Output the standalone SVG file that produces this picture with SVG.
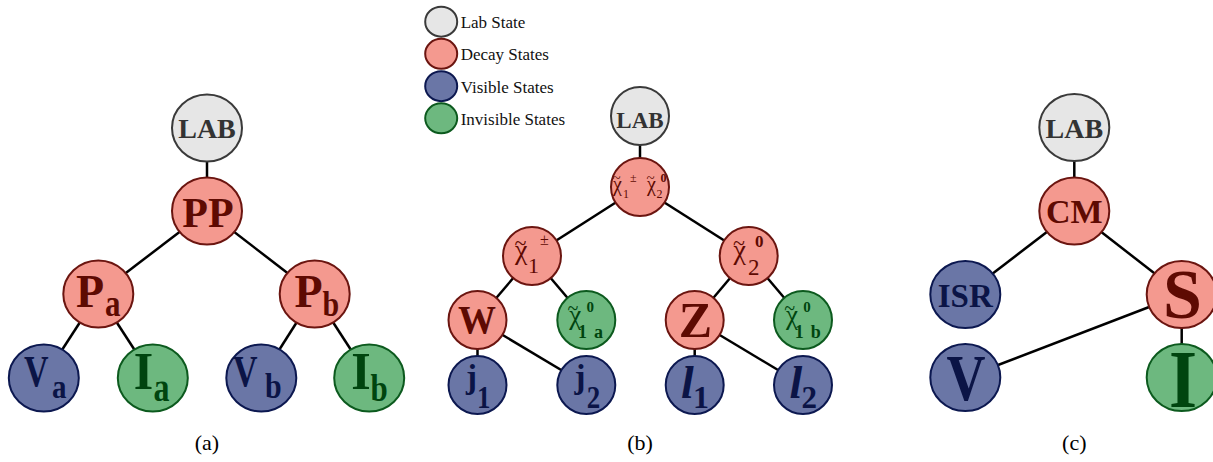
<svg xmlns="http://www.w3.org/2000/svg" width="1213" height="462" viewBox="0 0 1213 462">
<style>
.lab{fill:#e6e6e6;stroke:#3a3a3a;stroke-width:2}
.dec{fill:#f4998f;stroke:#6b1510;stroke-width:2}
.vis{fill:#6a76a6;stroke:#0c1850;stroke-width:2}
.inv{fill:#6db87f;stroke:#0c5a1e;stroke-width:2}
text{font-family:"Liberation Serif","Times New Roman",serif}
.b{font-weight:bold}
.m{text-anchor:middle}
.tl{fill:#333}
.td{fill:#5e0a02}
.tv{fill:#0b1446}
.ti{fill:#00450f}
.edges line{stroke:#000;stroke-width:2.5}
.leg{font-size:17px;fill:#111}
.cap{font-size:22px;fill:#000;text-anchor:middle}
</style>
<rect width="1213" height="462" fill="#fff"/>

<g id="connectors" class="edges">
  <!-- (a) -->
  <line x1="207" y1="128" x2="207" y2="211"/>
  <line x1="207" y1="211" x2="98.3" y2="294"/>
  <line x1="207" y1="211" x2="314.7" y2="294"/>
  <line x1="98.3" y1="294" x2="43.8" y2="378"/>
  <line x1="98.3" y1="294" x2="152.8" y2="378"/>
  <line x1="314.7" y1="294" x2="261.3" y2="378"/>
  <line x1="314.7" y1="294" x2="369.2" y2="378"/>
  <!-- (b) -->
  <line x1="640" y1="116" x2="640" y2="187"/>
  <line x1="640" y1="187" x2="532" y2="256"/>
  <line x1="640" y1="187" x2="748.7" y2="256"/>
  <line x1="532" y1="256" x2="477.5" y2="320"/>
  <line x1="532" y1="256" x2="586.3" y2="320"/>
  <line x1="748.7" y1="256" x2="694.7" y2="320"/>
  <line x1="748.7" y1="256" x2="803" y2="320"/>
  <line x1="477.5" y1="320" x2="477.5" y2="385"/>
  <line x1="477.5" y1="320" x2="586.3" y2="385"/>
  <line x1="694.7" y1="320" x2="694.7" y2="385"/>
  <line x1="694.7" y1="320" x2="803" y2="385"/>
  <!-- (c) -->
  <line x1="1074.3" y1="127.5" x2="1074.3" y2="211"/>
  <line x1="1074.3" y1="211" x2="965.3" y2="294.5"/>
  <line x1="1074.3" y1="211" x2="1181.7" y2="294.5"/>
  <line x1="1181.7" y1="294.5" x2="965.3" y2="377.5"/>
  <line x1="1181.7" y1="294.5" x2="1181.7" y2="377.5"/>
</g>

<g id="legend">
  <ellipse class="lab" cx="441.2" cy="21.7" rx="16" ry="15"/>
  <text class="leg" x="460.7" y="28.3">Lab State</text>
  <ellipse class="dec" cx="441.2" cy="53.8" rx="16" ry="15"/>
  <text class="leg" x="460.7" y="60.4">Decay States</text>
  <ellipse class="vis" cx="441.2" cy="86.2" rx="16" ry="15"/>
  <text class="leg" x="460.7" y="92.8">Visible States</text>
  <ellipse class="inv" cx="441.2" cy="118.3" rx="16" ry="15"/>
  <text class="leg" x="460.7" y="124.9">Invisible States</text>
</g>

<!-- Panel (a) -->
<g id="a-lab"><ellipse class="lab" cx="207" cy="128" rx="35" ry="33.5"/><text class="b m tl" x="207" y="138.3" font-size="28">LAB</text></g>
<g id="a-pp"><ellipse class="dec" cx="207" cy="211" rx="35" ry="33.5"/><text class="b m td" x="208" y="226.7" font-size="42">PP</text></g>
<g id="a-pa"><ellipse class="dec" cx="98.3" cy="294" rx="35" ry="33.5"/><text class="b td" x="76" y="306.7" font-size="46">P</text><text class="b td" transform="translate(105,315.5) scale(1,1.25)" font-size="31">a</text></g>
<g id="a-pb"><ellipse class="dec" cx="314.7" cy="294" rx="35" ry="33.5"/><text class="b td" x="294.5" y="306.7" font-size="46">P</text><text class="b td" transform="translate(322.5,315.5) scale(1,1.2)" font-size="30">b</text></g>
<g id="a-va"><ellipse class="vis" cx="43.8" cy="378" rx="35" ry="33.5"/><text class="b tv" transform="translate(24,386) scale(1,1.3)" font-size="34">V</text><text class="b tv" transform="translate(52,397.5) scale(1,1.15)" font-size="29">a</text></g>
<g id="a-ia"><ellipse class="inv" cx="152.8" cy="378" rx="35" ry="33.5"/><text class="b m ti" transform="translate(143.5,389) scale(1,1.05)" font-size="50">I</text><text class="b ti" transform="translate(153.5,401) scale(1,1.25)" font-size="32">a</text></g>
<g id="a-vb"><ellipse class="vis" cx="261.3" cy="378" rx="35" ry="33.5"/><text class="b tv" transform="translate(233,386) scale(1,1.3)" font-size="34">V</text><text class="b tv" transform="translate(265,398) scale(1,1.2)" font-size="30">b</text></g>
<g id="a-ib"><ellipse class="inv" cx="369.2" cy="378" rx="35" ry="33.5"/><text class="b m ti" transform="translate(361,389) scale(1,1.05)" font-size="50">I</text><text class="b ti" transform="translate(370.5,401) scale(1,1.2)" font-size="31">b</text></g>
<text class="cap" x="207" y="450">(a)</text>

<!-- Panel (b) -->
<g id="b-lab"><circle class="lab" cx="640" cy="116" r="29"/><text class="b m tl" x="640" y="127.5" font-size="23">LAB</text></g>
<g id="b-top"><circle class="dec" cx="640" cy="187" r="29"/>
  <text class="td" x="612.5" y="190.7" font-size="20">χ<tspan font-size="15" dx="-9.5" dy="-7.8">~</tspan><tspan x="623" y="198.3" font-size="12">1</tspan><tspan x="630" y="181.5" font-size="12">±</tspan><tspan x="646.5" y="190.7">χ</tspan><tspan font-size="15" dx="-9.5" dy="-7.8">~</tspan><tspan x="656.5" y="198.3" font-size="12">2</tspan><tspan x="660.5" y="181.5" font-size="12" font-weight="bold">0</tspan></text>
</g>
<g id="b-c1"><circle class="dec" cx="532" cy="256" r="29"/>
  <text class="td" x="514.5" y="259" font-size="28">χ<tspan font-size="22" dx="-13" dy="-9.5">~</tspan><tspan x="528" y="273" font-size="22">1</tspan><tspan x="540" y="245" font-size="16">±</tspan></text>
</g>
<g id="b-c2"><circle class="dec" cx="748.7" cy="256" r="29"/>
  <text class="td" x="733" y="259" font-size="28">χ<tspan font-size="22" dx="-13" dy="-9.5">~</tspan><tspan x="748" y="275" font-size="23">2</tspan><tspan x="755" y="246.7" font-size="17" font-weight="bold">0</tspan></text>
</g>
<g id="b-w"><circle class="dec" cx="477.5" cy="320" r="29"/><text class="b m td" transform="translate(477,333.3) scale(1,1.08)" font-size="38">W</text></g>
<g id="b-n1a"><circle class="inv" cx="586.3" cy="320" r="29"/>
  <text class="ti" x="567.5" y="323.9" font-size="27">χ<tspan font-size="20" dx="-13.7" dy="-8.7">~</tspan><tspan x="586.5" y="311.7" font-size="15" font-weight="bold">0</tspan><tspan x="578" y="338.3" font-size="18" font-weight="bold">1</tspan><tspan x="594" y="338.3" font-size="18" font-weight="bold">a</tspan></text>
</g>
<g id="b-z"><circle class="dec" cx="694.7" cy="320" r="29"/><text class="b m td" x="695.5" y="336.5" font-size="50">Z</text></g>
<g id="b-n1b"><circle class="inv" cx="803" cy="320" r="29"/>
  <text class="ti" x="784.2" y="323.9" font-size="27">χ<tspan font-size="20" dx="-13.7" dy="-8.7">~</tspan><tspan x="803.2" y="311.7" font-size="15" font-weight="bold">0</tspan><tspan x="794.7" y="338.3" font-size="18" font-weight="bold">1</tspan><tspan x="810.7" y="338.3" font-size="18" font-weight="bold">b</tspan></text>
</g>
<g id="b-j1"><circle class="vis" cx="477.5" cy="385" r="29"/><text class="b tv" x="466" y="388" font-size="33">j</text><text class="b tv" transform="translate(477,408.3) scale(1,1.15)" font-size="27">1</text></g>
<g id="b-j2"><circle class="vis" cx="586.3" cy="385" r="29"/><text class="b tv" x="574.5" y="388" font-size="33">j</text><text class="b tv" transform="translate(586.7,408) scale(1,1.15)" font-size="27">2</text></g>
<g id="b-l1"><circle class="vis" cx="694.7" cy="385" r="29"/><text class="b tv" x="681" y="398.3" font-size="46"><tspan font-style="italic">l</tspan><tspan x="693" y="408.3" font-size="32">1</tspan></text></g>
<g id="b-l2"><circle class="vis" cx="803" cy="385" r="29"/><text class="b tv" x="789.5" y="398.3" font-size="46"><tspan font-style="italic">l</tspan><tspan x="801.5" y="408.3" font-size="31">2</tspan></text></g>
<text class="cap" x="640" y="450">(b)</text>

<!-- Panel (c) -->
<g id="c-lab"><ellipse class="lab" cx="1074.3" cy="127.5" rx="35" ry="33.5"/><text class="b m tl" x="1074.3" y="138.3" font-size="28">LAB</text></g>
<g id="c-cm"><ellipse class="dec" cx="1074.3" cy="211" rx="35" ry="33.5"/><text class="b m td" x="1074.3" y="223" font-size="34">CM</text></g>
<g id="c-isr"><ellipse class="vis" cx="965.3" cy="294.5" rx="35" ry="33.5"/><text class="b m tv" x="965.3" y="306.7" font-size="33">ISR</text></g>
<g id="c-s"><ellipse class="dec" cx="1181.7" cy="294.5" rx="35" ry="33.5"/><text class="b m td" x="1182.5" y="317.5" font-size="70">S</text></g>
<g id="c-v"><ellipse class="vis" cx="965.3" cy="377.5" rx="35" ry="33.5"/><text class="b m tv" transform="translate(966,400) scale(1,1.2)" font-size="54">V</text></g>
<g id="c-i"><ellipse class="inv" cx="1181.7" cy="377.5" rx="35" ry="33.5"/><text class="b m ti" transform="translate(1183,406.7) scale(1,1.15)" font-size="72">I</text></g>
<text class="cap" x="1074.3" y="450">(c)</text>
</svg>
